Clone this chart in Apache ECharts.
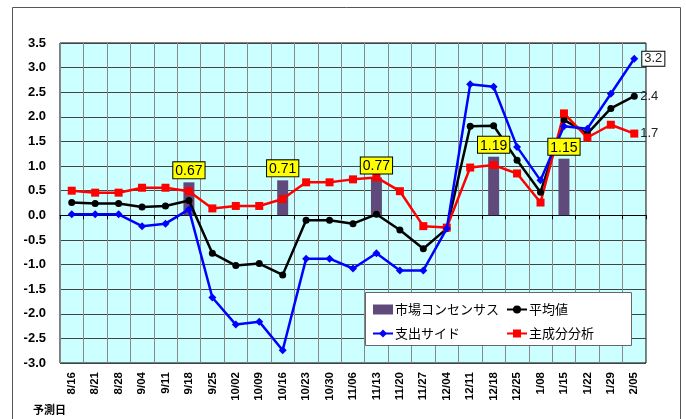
<!DOCTYPE html>
<html>
<head>
<meta charset="utf-8">
<script src="https://cdn.jsdelivr.net/npm/echarts@6/dist/echarts.min.js"></script>
<style>
html, body { margin: 0; padding: 0; background: #fff; }
#chartBox { width: 686px; height: 419px; }
</style>
</head>
<body>
<div id="chartBox"></div>
<script>
// 予測日
const categories = ['8/16','8/21','8/28','9/04','9/11','9/18','9/25','10/02','10/09','10/16','10/23','10/30',
    '11/06','11/13','11/20','11/27','12/04','12/11','12/18','12/25','1/08','1/15','1/22','1/29','2/05'];
// 市場コンセンサス
const consensus = ['-','-','-','-','-',0.67,'-','-','-',0.71,'-','-','-',0.77,'-','-','-','-',1.19,'-','-',1.15,'-','-','-'];
// 平均値
const average = [0.26,0.24,0.24,0.17,0.19,0.30,-0.77,-1.02,-0.98,-1.21,-0.10,-0.10,-0.17,0.02,-0.30,-0.68,-0.27,
    1.81,1.82,1.12,0.47,1.94,1.66,2.17,2.42];
// 支出サイド
const expenditure = [0.02,0.02,0.02,-0.22,-0.17,0.12,-1.67,-2.22,-2.16,-2.74,-0.88,-0.88,-1.08,-0.77,-1.12,-1.12,-0.27,
    2.66,2.61,1.39,0.71,1.81,1.76,2.47,3.18];
// 主成分分析
const pca = [0.50,0.46,0.46,0.56,0.56,0.49,0.14,0.19,0.19,0.33,0.67,0.67,0.73,0.77,0.49,-0.22,-0.25,
    0.97,1.02,0.85,0.26,2.07,1.58,1.84,1.66];

const chartDom = document.getElementById('chartBox');
const myChart = echarts.init(chartDom);
const endFmt = p => Number(p.value).toFixed(1);

let option = {
    animation: false,
    backgroundColor: '#fff',
    textStyle: { fontFamily: 'Liberation Sans, Arial, sans-serif' },
    grid: {
        left: 60, right: 40, top: 43, bottom: 56,
        show: true,
        backgroundColor: '#ccffff',
        borderColor: '#000',
        borderWidth: 1
    },
    graphic: [
        {
            type: 'rect', z: 0, silent: true,
            shape: { x: 12.5, y: 7.5, width: 668, height: 430 },
            style: { fill: null, stroke: '#555', lineWidth: 1 }
        },
        {
            type: 'rect', z: 3, silent: true,
            shape: { x: 365.5, y: 292.5, width: 266, height: 53 },
            style: { fill: '#fff', stroke: '#666', lineWidth: 1 }
        },
        {
            type: 'text', left: 33, top: 404, silent: true,
            style: { text: '予測日', fontSize: 11, fontWeight: 'bold', fill: '#000',
                fontFamily: 'Noto Sans CJK JP' }
        }
    ],
    legend: [
        {
            orient: 'vertical', left: 367, top: 298, itemGap: 11,
            itemWidth: 20, itemHeight: 10, z: 5,
            textStyle: { fontSize: 13, color: '#000', fontFamily: 'Noto Sans CJK JP', padding: [0, 0, 0, -3] },
            data: [{ name: '市場コンセンサス', icon: 'rect' }, { name: '支出サイド' }]
        },
        {
            orient: 'vertical', left: 501, top: 298, itemGap: 11,
            itemWidth: 20, itemHeight: 10, z: 5,
            textStyle: { fontSize: 13, color: '#000', fontFamily: 'Noto Sans CJK JP', padding: [0, 0, 0, -3] },
            data: ['平均値', '主成分分析']
        }
    ],
    xAxis: [
        {
            type: 'category',
            data: categories,
            position: 'bottom',
            axisLine: { onZero: false, show: false },
            axisTick: { show: false },
            axisLabel: {
                interval: 0, rotate: 90, margin: 9,
                fontSize: 11.5, fontWeight: 'bold', color: '#000'
            },
            splitLine: { show: true, interval: 0, lineStyle: { color: '#888', width: 1 } }
        },
        {
            type: 'category',
            data: categories,
            position: 'bottom',
            axisLine: { onZero: true, onZeroAxisIndex: 0, lineStyle: { color: '#000', width: 1 } },
            axisTick: { show: true, interval: 0, length: 4, lineStyle: { color: '#000' } },
            axisLabel: { show: false },
            splitLine: { show: false }
        }
    ],
    yAxis: {
        type: 'value',
        min: -3, max: 3.5, interval: 0.5,
        axisLine: { show: false },
        axisTick: { show: false },
        axisLabel: {
            margin: 14, fontSize: 13, fontWeight: 'bold', color: '#000',
            formatter: v => v.toFixed(1)
        },
        splitLine: { lineStyle: { color: '#444', width: 1 } }
    },
    series: [
        {
            name: '市場コンセンサス',
            type: 'bar',
            barWidth: 11,
            itemStyle: { color: '#604a7b' },
            z: 2,
            data: consensus
        },
        {
            // 数値ラベルだけ線の上に出す
            type: 'bar',
            barWidth: 11,
            barGap: '-100%',
            itemStyle: { color: 'rgba(0,0,0,0)' },
            label: {
                show: true, position: 'top', distance: 4,
                fontSize: 14, color: '#000',
                backgroundColor: '#ffff00', borderColor: '#000', borderWidth: 1,
                padding: [2, 2, 0, 2],
                formatter: p => Number(p.value).toFixed(2)
            },
            z: 6,
            silent: true,
            data: consensus
        },
        {
            name: '平均値',
            type: 'line',
            symbol: 'circle', symbolSize: 7,
            itemStyle: { color: '#000' },
            lineStyle: { color: '#000', width: 2.5 },
            endLabel: { show: true, distance: 6, fontSize: 13, color: '#222', formatter: endFmt },
            z: 3,
            data: average
        },
        {
            name: '支出サイド',
            type: 'line',
            symbol: 'diamond', symbolSize: 8,
            itemStyle: { color: '#0000ff' },
            lineStyle: { color: '#0000ff', width: 2.5 },
            endLabel: {
                show: true, distance: 8, fontSize: 13, color: '#222',
                backgroundColor: '#fff', borderColor: '#000', borderWidth: 1, padding: [1, 2, 0, 2],
                formatter: endFmt
            },
            z: 4,
            data: expenditure
        },
        {
            name: '主成分分析',
            type: 'line',
            symbol: 'rect', symbolSize: 8,
            itemStyle: { color: '#ff0000' },
            lineStyle: { color: '#ff0000', width: 2.5 },
            endLabel: { show: true, distance: 6, fontSize: 13, color: '#222', formatter: endFmt },
            z: 3,
            data: pca
        }
    ]
};
myChart.setOption(option);
</script>
</body>
</html>
